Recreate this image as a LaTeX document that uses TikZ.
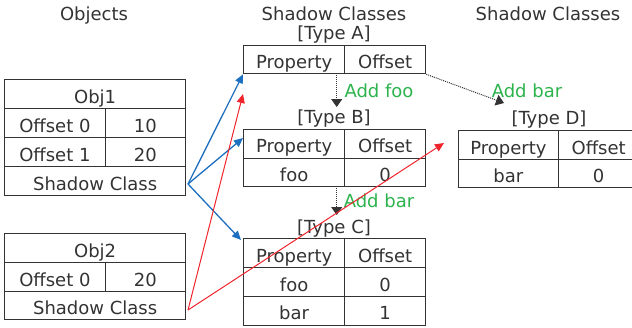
\documentclass[tikz,border=0pt]{standalone}
\usepackage{fontspec}
\setmainfont{DejaVu Sans}
\usetikzlibrary{arrows.meta}
\definecolor{ink}{HTML}{333333}
\definecolor{bl}{HTML}{1D6FC0}
\definecolor{rd}{HTML}{F0242C}
\definecolor{gr}{HTML}{2DB34D}
\tikzset{
  cell/.style={draw=ink, line width=1.3pt, anchor=north west, inner sep=0pt,
    minimum height=#1, text=ink, text height=18pt, text depth=0pt,
    font=\fontsize{18}{21}\selectfont},
  cell/.default=29pt,
  lbl/.style={text=ink, inner sep=0pt, anchor=base, font=\fontsize{18}{21}\selectfont},
  glbl/.style={text=gr, inner sep=0pt, anchor=base, font=\fontsize{18}{21}\selectfont},
  dotarr/.style={densely dotted, line width=1pt, ink, -{Triangle[length=8pt,width=11pt]}},
  blarr/.style={bl, line width=1.3pt, -{Triangle[length=9pt,width=8pt]}},
  rdarr/.style={rd, line width=1pt, -{Triangle[length=9pt,width=8pt]}},
}
\begin{document}
\begin{tikzpicture}[x=1pt,y=-1pt]
\useasboundingbox (0,0) rectangle (632,327);
% headers
\node[lbl] (hobj) at (94,20) {Objects};
\node[lbl] (hsc1) at (334,20) {Shadow Classes};
\node[lbl] (hsc2) at (548,20) {Shadow Classes};
% Obj1
\node[cell, minimum width=181pt] (o1h) at (4,79) {Obj1};
\node[cell, minimum width=100.5pt] (o1a) at (4,108) {Offset 0};
\node[cell, minimum width=80.5pt] (o1av) at (104.5,108) {10};
\node[cell, minimum width=100.5pt] (o1b) at (4,137) {Offset 1};
\node[cell, minimum width=80.5pt] (o1bv) at (104.5,137) {20};
\node[cell, minimum width=181pt] (o1s) at (4,166) {Shadow Class};
% Obj2
\node[cell, minimum width=181pt] (o2h) at (4,233) {Obj2};
\node[cell, minimum width=100.5pt] (o2a) at (4,262) {Offset 0};
\node[cell, minimum width=80.5pt] (o2av) at (104.5,262) {20};
\node[cell, minimum width=181pt, minimum height=28pt] (o2s) at (4,291) {Shadow Class};
% Type A
\node[lbl] (ta) at (334,39) {[Type A]};
\node[cell, minimum width=101pt, minimum height=28.5pt] (tap) at (243,44.5) {Property};
\node[cell, minimum width=81pt, minimum height=28.5pt] (tao) at (344,44.5) {Offset};
% Type B
\node[lbl] (tb) at (334,123) {[Type B]};
\node[cell, minimum width=101pt, minimum height=28.5pt] (tbp) at (243,129) {Property};
\node[cell, minimum width=81pt, minimum height=28.5pt] (tbo) at (344,129) {Offset};
\node[cell, minimum width=101pt, minimum height=28.5pt] (tb1) at (243,157.5) {foo};
\node[cell, minimum width=81pt, minimum height=28.5pt] (tb1v) at (344,157.5) {0};
% Type C
\node[lbl] (tc) at (334,233) {[Type C]};
\node[cell, minimum width=101pt] (tcp) at (243,238) {Property};
\node[cell, minimum width=81pt] (tco) at (344,238) {Offset};
\node[cell, minimum width=101pt] (tc1) at (243,267) {foo};
\node[cell, minimum width=81pt] (tc1v) at (344,267) {0};
\node[cell, minimum width=101pt, minimum height=28.5pt] (tc2) at (243,296) {bar};
\node[cell, minimum width=81pt, minimum height=28.5pt] (tc2v) at (344,296) {1};
% Type D
\node[lbl] (td) at (549,124) {[Type D]};
\node[cell, minimum width=100.5pt] (tdp) at (457.5,130) {Property};
\node[cell, minimum width=80pt] (tdo) at (558,130) {Offset};
\node[cell, minimum width=100.5pt, minimum height=28pt] (td1) at (457.5,159) {bar};
\node[cell, minimum width=80pt, minimum height=28pt] (td1v) at (558,159) {0};
% green labels
\node[glbl] (addfoo) at (379,97.5) {Add foo};
\node[glbl] (addbar1) at (527,97.5) {Add bar};
\node[glbl] (addbar2) at (379,207) {Add bar};
% coordinates
\coordinate (aB1) at (336.7,73);
\coordinate (aB2) at (336.7,107);
\coordinate (aC1) at (336.7,186);
\coordinate (aC2) at (336.7,215);
\coordinate (aD2) at (504,103);
\coordinate (o1p) at (188,184);
\coordinate (o2p) at (188,310);
\coordinate (bB) at (243,138);
\coordinate (bC) at (241,240);
\coordinate (rA) at (243,94);
\coordinate (rD) at (444,143);
% dotted transitions
\draw[dotarr] (aB1) -- (aB2);
\draw[dotarr] (aC1) -- (aC2);
\draw[dotarr] (tao.south east) -- (aD2);
% pointers
\draw[blarr] (o1p) -- (tap.south west);
\draw[blarr] (o1p) -- (bB);
\draw[blarr] (o1p) -- (bC);
\draw[rdarr] (o2p) -- (rA);
\draw[rdarr] (o2p) -- (rD);
\end{tikzpicture}
\end{document}
